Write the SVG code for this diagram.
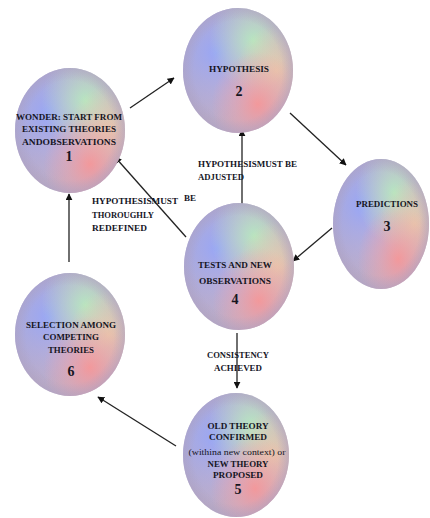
<svg xmlns="http://www.w3.org/2000/svg" xmlns:xlink="http://www.w3.org/1999/xlink" width="430" height="518" viewBox="0 0 430 518">
<style>
.t{font-family:"Liberation Serif","Times New Roman",serif;font-weight:bold;font-size:9px;fill:#15151f;text-anchor:middle}
.n{font-size:14px}
.s{font-weight:normal;font-size:8.5px}
.sm{font-size:8px}
.lbl{font-family:"Liberation Serif","Times New Roman",serif;font-weight:bold;font-size:9px;fill:#15151f}
.c{stroke:#222;stroke-width:1.3;fill:none;marker-end:url(#ah)}
</style>
<defs>
<marker id="ah" viewBox="0 0 10 10" refX="9" refY="5" markerWidth="7" markerHeight="7" markerUnits="userSpaceOnUse" orient="auto">
<path d="M0,0 L10,5 L0,10 z" fill="#111"/>
</marker>
<radialGradient id="gBase" cx="0.5" cy="0.5" r="0.5">
<stop offset="0" stop-color="#d6b6c6"/>
<stop offset="1" stop-color="#b8abc8"/>
</radialGradient>
<radialGradient id="gBlue" cx="0.3" cy="0.36" r="0.55">
<stop offset="0" stop-color="#93a5fb" stop-opacity="0.9"/>
<stop offset="0.5" stop-color="#9aa8f2" stop-opacity="0.5"/>
<stop offset="1" stop-color="#9aa8f2" stop-opacity="0"/>
</radialGradient>
<radialGradient id="gGreen" cx="0.64" cy="0.26" r="0.4">
<stop offset="0" stop-color="#b6ecbe" stop-opacity="0.9"/>
<stop offset="0.5" stop-color="#bfe6c2" stop-opacity="0.45"/>
<stop offset="1" stop-color="#bfe6c2" stop-opacity="0"/>
</radialGradient>
<radialGradient id="gPeach" cx="0.85" cy="0.5" r="0.36">
<stop offset="0" stop-color="#f3cfa5" stop-opacity="0.75"/>
<stop offset="1" stop-color="#f3cfa5" stop-opacity="0"/>
</radialGradient>
<radialGradient id="gRed" cx="0.68" cy="0.77" r="0.42">
<stop offset="0" stop-color="#fa9494" stop-opacity="0.85"/>
<stop offset="0.5" stop-color="#f2a0a4" stop-opacity="0.45"/>
<stop offset="1" stop-color="#f2a0a4" stop-opacity="0"/>
</radialGradient>
<radialGradient id="gEdge" cx="0.5" cy="0.5" r="0.5">
<stop offset="0.8" stop-color="#ac9fbe" stop-opacity="0"/>
<stop offset="1" stop-color="#ac9fbe" stop-opacity="0.45"/>
</radialGradient>
<symbol id="ball" viewBox="0 0 100 100" preserveAspectRatio="none">
<circle cx="50" cy="50" r="50" fill="url(#gBase)"/>
<circle cx="50" cy="50" r="50" fill="url(#gBlue)"/>
<circle cx="50" cy="50" r="50" fill="url(#gGreen)"/>
<circle cx="50" cy="50" r="50" fill="url(#gPeach)"/>
<circle cx="50" cy="50" r="50" fill="url(#gRed)"/>
<circle cx="50" cy="50" r="50" fill="url(#gEdge)"/>
</symbol>
</defs>
<rect width="430" height="518" fill="#fff"/>

<g id="connectors">
<line class="c" x1="130" y1="108" x2="174" y2="78"/>
<line class="c" x1="290" y1="113" x2="346" y2="165"/>
<line class="c" x1="332" y1="228" x2="293" y2="261"/>
<line class="c" x1="242" y1="205" x2="242" y2="130"/>
<line class="c" x1="186" y1="237" x2="115" y2="157"/>
<line class="c" x1="69" y1="262" x2="69" y2="194"/>
<line class="c" x1="237" y1="333" x2="237" y2="388"/>
<line class="c" x1="176" y1="446" x2="98" y2="397"/>
<text class="lbl" x="198" y="167" textLength="99" lengthAdjust="spacingAndGlyphs">HYPOTHESISMUST BE</text>
<text class="lbl" x="198" y="180" textLength="46" lengthAdjust="spacingAndGlyphs">ADJUSTED</text>
<text class="lbl" x="92" y="204" textLength="86" lengthAdjust="spacingAndGlyphs">HYPOTHESISMUST</text>
<text class="lbl" x="184" y="201" font-size="8">BE</text>
<text class="lbl" x="92" y="218" textLength="62" lengthAdjust="spacingAndGlyphs">THOROUGHLY</text>
<text class="lbl" x="92" y="231" textLength="55" lengthAdjust="spacingAndGlyphs">REDEFINED</text>
<text class="t" x="238" y="358" textLength="62" lengthAdjust="spacingAndGlyphs">CONSISTENCY</text>
<text class="t" x="238" y="371" textLength="48" lengthAdjust="spacingAndGlyphs">ACHIEVED</text>
</g>

<g id="node1">
<use xlink:href="#ball" x="15" y="68" width="110" height="125"/>
<text class="t" x="69" y="120" textLength="106" lengthAdjust="spacingAndGlyphs">WONDER: START FROM</text>
<text class="t" x="69" y="132" textLength="94" lengthAdjust="spacingAndGlyphs">EXISTING THEORIES</text>
<text class="t" x="69" y="145" textLength="94" lengthAdjust="spacingAndGlyphs">ANDOBSERVATIONS</text>
<text class="t n" x="69" y="161">1</text>
</g>

<g id="node2">
<use xlink:href="#ball" x="183" y="8" width="110" height="125"/>
<text class="t" x="239" y="72" textLength="60" lengthAdjust="spacingAndGlyphs">HYPOTHESIS</text>
<text class="t n" x="239" y="96">2</text>
</g>

<g id="node3">
<use xlink:href="#ball" x="333" y="159" width="96" height="130"/>
<text class="t" x="387" y="207" textLength="62" lengthAdjust="spacingAndGlyphs">PREDICTIONS</text>
<text class="t n" x="387" y="231">3</text>
</g>

<g id="node4">
<use xlink:href="#ball" x="184" y="203" width="110" height="127"/>
<text class="t" x="235" y="268" textLength="74" lengthAdjust="spacingAndGlyphs">TESTS AND NEW</text>
<text class="t" x="235" y="284" textLength="72" lengthAdjust="spacingAndGlyphs">OBSERVATIONS</text>
<text class="t n" x="235" y="304">4</text>
</g>

<g id="node6">
<use xlink:href="#ball" x="15" y="273" width="110" height="123"/>
<text class="t" x="71" y="328" textLength="90" lengthAdjust="spacingAndGlyphs">SELECTION AMONG</text>
<text class="t" x="71" y="340" textLength="56" lengthAdjust="spacingAndGlyphs">COMPETING</text>
<text class="t" x="71" y="353" textLength="46" lengthAdjust="spacingAndGlyphs">THEORIES</text>
<text class="t n" x="71" y="376">6</text>
</g>

<g id="node5">
<use xlink:href="#ball" x="183" y="393" width="106" height="124"/>
<text class="t" x="238" y="429" textLength="61" lengthAdjust="spacingAndGlyphs">OLD THEORY</text>
<text class="t sm" x="238" y="440" textLength="58" lengthAdjust="spacingAndGlyphs">CONFIRMED</text>
<text class="t s" x="237" y="455" textLength="97" lengthAdjust="spacingAndGlyphs">(withina new context) or</text>
<text class="t" x="238" y="467" textLength="61" lengthAdjust="spacingAndGlyphs">NEW THEORY</text>
<text class="t sm" x="238" y="478" textLength="50" lengthAdjust="spacingAndGlyphs">PROPOSED</text>
<text class="t n" x="238" y="494">5</text>
</g>
</svg>
